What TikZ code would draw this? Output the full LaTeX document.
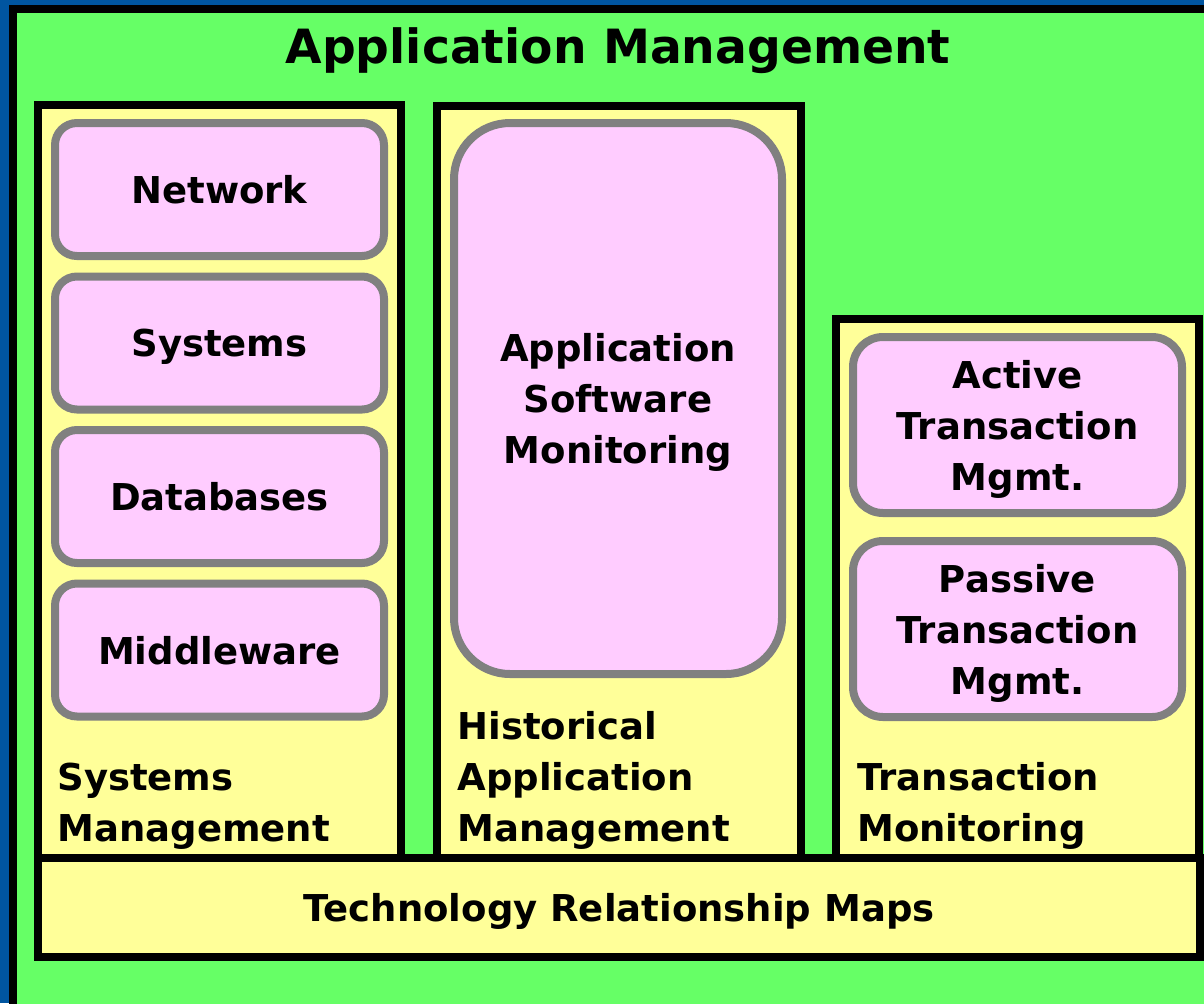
\documentclass[tikz,border=0pt]{standalone}
\usepackage{fontspec}
\setmainfont{DejaVu Sans}
\definecolor{bgblue}{HTML}{0055A0}
\definecolor{mgmtgreen}{HTML}{66FF66}
\definecolor{colyellow}{HTML}{FFFF99}
\definecolor{boxpink}{HTML}{FFCCFF}
\definecolor{boxgray}{HTML}{808080}
\tikzset{
    frame/.style = {draw=black, line width=4pt, fill=mgmtgreen},
    column/.style = {draw=black, line width=4pt, fill=colyellow, inner sep=0pt},
    tool/.style = {draw=boxgray, line width=4pt, fill=boxpink, align=center, text depth=0pt,
        minimum width=164.5pt, font=\bfseries\fontsize{18.5pt}{25.5pt}\selectfont},
    label/.style = {anchor=south west, inner sep=0pt, align=left,
        font=\bfseries\fontsize{18.5pt}{25.5pt}\selectfont}
}
\begin{document}
\begin{tikzpicture}[x=0.5pt, y=-0.5pt]
        \useasboundingbox (0, 0) rectangle (1204, 1003);
        \clip (0, 0) rectangle (1204, 1003);
        \fill[bgblue] (0, 0) rectangle (1204, 1003);
        \draw[frame] (13, 9) rectangle (1240, 1040);
        \node[anchor=base, font=\bfseries\fontsize{23.6pt}{28pt}\selectfont] (title) at (618, 63) {Application Management};
        \node[column, minimum width=181.5pt, minimum height=376.5pt] (sysmgmt) at (219.5, 481.5) {};
        \node[column, minimum width=181.75pt, minimum height=376pt] (histmgmt) at (618.75, 482) {};
        \node[column, minimum width=181.5pt, minimum height=269.5pt] (transmon) at (1017.5, 588.5) {};
        \node[column, minimum width=581pt, minimum height=49.5pt, text depth=0pt, font=\bfseries\fontsize{18.5pt}{25.5pt}\selectfont] (techmaps) at (619, 907.5) {Technology Relationship Maps};
        \node[tool, minimum height=66.5pt, rounded corners=11pt] (network) at (219.5, 189.5) {Network};
        \node[tool, minimum height=66.5pt, rounded corners=11pt] (systems) at (219.5, 343) {Systems};
        \node[tool, minimum height=66.5pt, rounded corners=11pt] (databases) at (219.5, 496.5) {Databases};
        \node[tool, minimum height=66.5pt, rounded corners=11pt] (middleware) at (219.5, 650) {Middleware};
        \node[tool, minimum width=164pt, minimum height=275.5pt, rounded corners=28pt] (appsoft) at (618, 398.5) {Application\\Software\\Monitoring};
        \node[tool, minimum height=88pt, rounded corners=15pt] (active) at (1017.5, 425) {Active\\Transaction\\Mgmt.};
        \node[tool, minimum height=88pt, rounded corners=15pt] (passive) at (1017.5, 629) {Passive\\Transaction\\Mgmt.};
        \node[label] (syslabel) at (57, 850) {Systems\\Management};
        \node[label] (histlabel) at (457, 850) {Historical\\Application\\Management};
        \node[label] (translabel) at (857, 850) {Transaction\\Monitoring};
    \end{tikzpicture}
\end{document}
